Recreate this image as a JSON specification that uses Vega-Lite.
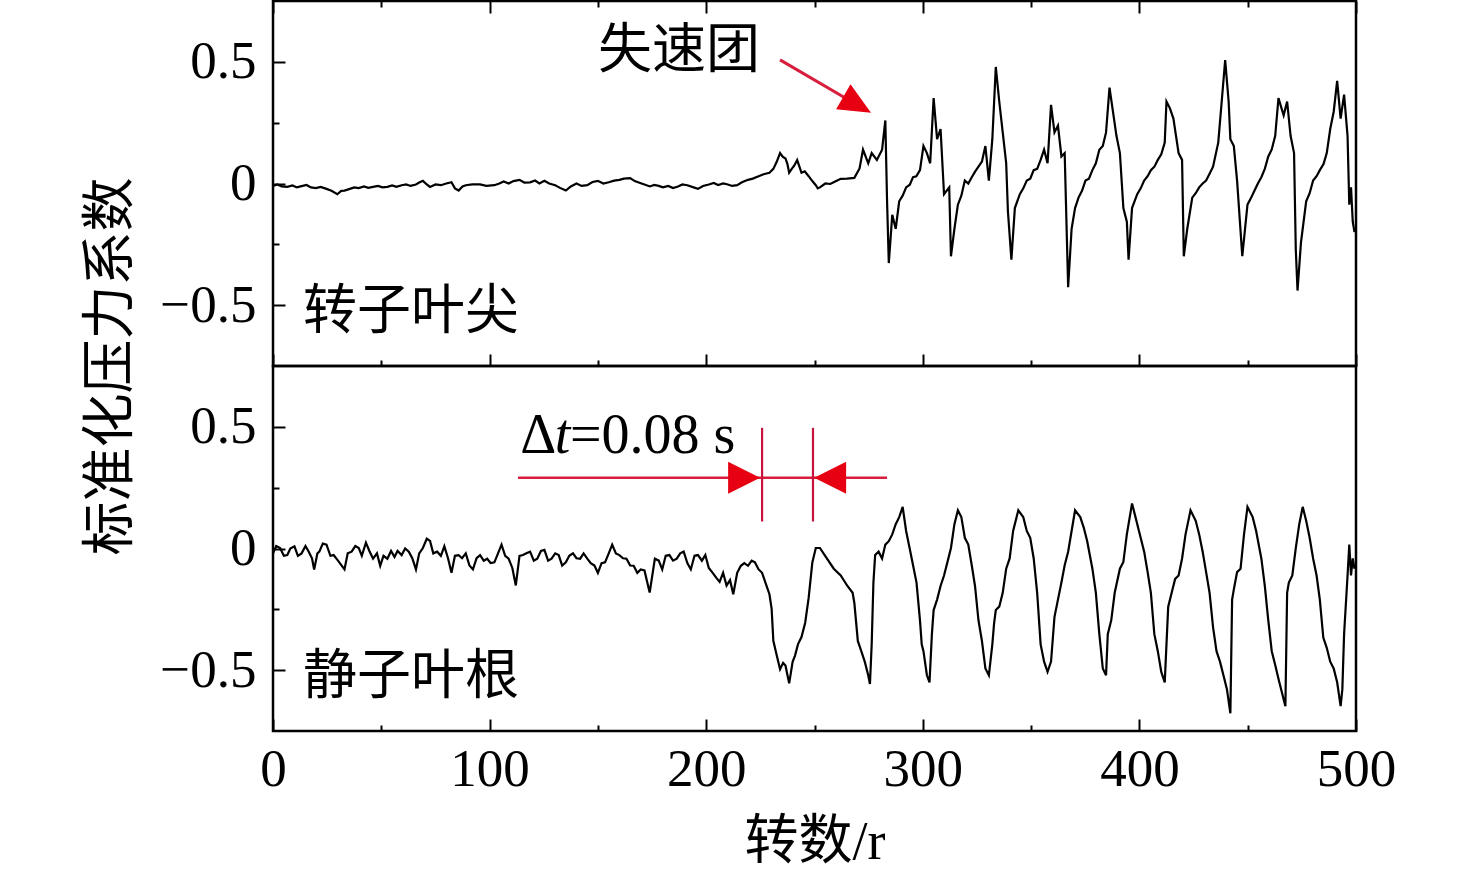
{
"$schema": "https://vega.github.io/schema/vega-lite/v6.json",
"background": "white",
"padding": {"left": 82, "top": -2, "right": 0, "bottom": 0},
"bounds": "flush",
"spacing": 0,
"config": {
  "view": {"stroke": "black", "strokeWidth": 2.5},
  "axis": {"domain": false, "grid": false, "tickColor": "black", "tickWidth": 2, "labelFont": "Liberation Serif", "labelFontSize": 53, "labelColor": "black", "labelOverlap": false, "labelFlush": false, "titleColor": "black"}
},
"datasets": {
"rotorTip": [
{"r":0,"p":-0.010},{"r":2,"p":-0.004},{"r":4,"p":-0.012},{"r":6.6,"p":-0.014},{"r":9,"p":-0.008},{"r":11,"p":-0.016},{"r":13.2,"p":-0.011},{"r":15.5,"p":-0.006},{"r":17.5,"p":-0.016},{"r":19.8,"p":-0.019},{"r":22,"p":-0.014},{"r":24.7,"p":-0.022},{"r":27,"p":-0.03},{"r":29.7,"p":-0.044},{"r":31.5,"p":-0.03},{"r":33,"p":-0.029},{"r":35.5,"p":-0.022},{"r":37.5,"p":-0.016},{"r":39.6,"p":-0.019},{"r":42,"p":-0.012},{"r":44,"p":-0.018},{"r":46.2,"p":-0.014},{"r":48.5,"p":-0.01},{"r":50.5,"p":-0.016},{"r":52.8,"p":-0.014},{"r":55,"p":-0.008},{"r":57,"p":-0.014},{"r":59.4,"p":-0.007},{"r":61.5,"p":-0.004},{"r":63.5,"p":-0.01},{"r":66,"p":-0.004},{"r":67.5,"p":0.004},{"r":69.2,"p":0.011},{"r":71,"p":-0.004},{"r":72.5,"p":-0.014},{"r":75,"p":-0.004},{"r":77.5,"p":-0.007},{"r":80,"p":0.0},{"r":82.4,"p":0.005},{"r":84,"p":-0.02},{"r":85.7,"p":-0.029},{"r":87.5,"p":-0.012},{"r":89,"p":-0.007},{"r":92,"p":-0.004},{"r":95.6,"p":-0.004},{"r":98.5,"p":-0.01},{"r":102.2,"p":-0.007},{"r":104.5,"p":0.0},{"r":106.5,"p":0.008},{"r":108.8,"p":0.0},{"r":111,"p":0.01},{"r":113.8,"p":0.015},{"r":116,"p":0.004},{"r":118.7,"p":0.005},{"r":121,"p":0.012},{"r":123,"p":0.0},{"r":125.3,"p":0.011},{"r":127.5,"p":0.0},{"r":130.3,"p":-0.007},{"r":132.5,"p":-0.018},{"r":135.2,"p":-0.029},{"r":137.5,"p":-0.012},{"r":140.1,"p":0.0},{"r":142.5,"p":-0.01},{"r":145.1,"p":-0.007},{"r":147.5,"p":0.006},{"r":150,"p":0.011},{"r":152.5,"p":0.0},{"r":155,"p":0.005},{"r":157.5,"p":0.012},{"r":159.9,"p":0.015},{"r":162,"p":0.02},{"r":164.9,"p":0.022},{"r":167,"p":0.01},{"r":169.5,"p":0.002},{"r":171.5,"p":-0.004},{"r":174,"p":-0.012},{"r":176,"p":-0.006},{"r":178.1,"p":-0.01},{"r":180,"p":-0.016},{"r":182.5,"p":-0.01},{"r":184.7,"p":-0.019},{"r":187,"p":-0.012},{"r":189,"p":-0.004},{"r":191.3,"p":-0.007},{"r":193.5,"p":-0.014},{"r":196.2,"p":-0.022},{"r":198.5,"p":-0.01},{"r":201.2,"p":-0.004},{"r":203.5,"p":0.002},{"r":205.5,"p":-0.006},{"r":207.8,"p":0.0},{"r":210,"p":-0.004},{"r":212,"p":-0.01},{"r":214.3,"p":-0.007},{"r":216.5,"p":0.005},{"r":219.3,"p":0.015},{"r":221.5,"p":0.02},{"r":224.2,"p":0.03},{"r":226.5,"p":0.038},{"r":229.2,"p":0.044},{"r":231,"p":0.06},{"r":232.5,"p":0.088},{"r":234.1,"p":0.125},{"r":235.3,"p":0.11},{"r":236.6,"p":0.103},{"r":237.5,"p":0.08},{"r":238.3,"p":0.044},{"r":239.5,"p":0.06},{"r":240.7,"p":0.074},{"r":242,"p":0.096},{"r":243,"p":0.07},{"r":244,"p":0.044},{"r":245.5,"p":0.05},{"r":247.3,"p":0.03},{"r":249,"p":0.01},{"r":250.6,"p":-0.007},{"r":251.5,"p":-0.02},
{"r":252.5,"p":-0.016},{"r":255,"p":0.0},{"r":257.3,"p":-0.002},{"r":260,"p":0.01},{"r":262.1,"p":0.019},{"r":265,"p":0.02},{"r":268.4,"p":0.023},{"r":270.8,"p":0.062},{"r":272.4,"p":0.139},{"r":274.8,"p":0.083},{"r":276.4,"p":0.125},{"r":278.8,"p":0.097},{"r":281.2,"p":0.139},{"r":282.7,"p":0.259},{"r":283.5,"p":-0.073},{"r":284.3,"p":-0.327},{"r":285.9,"p":-0.129},{"r":287.5,"p":-0.186},{"r":289.1,"p":-0.073},{"r":290.7,"p":-0.05},{"r":292.3,"p":-0.016},{"r":294,"p":-0.005},{"r":295.5,"p":0.026},{"r":297,"p":0.03},{"r":298.7,"p":0.055},{"r":300.3,"p":0.154},{"r":301.9,"p":0.125},{"r":303.4,"p":0.083},{"r":305,"p":0.351},{"r":306.6,"p":0.182},{"r":308.2,"p":0.224},{"r":309.8,"p":-0.044},{"r":312.2,"p":-0.016},{"r":313,"p":-0.299},{"r":314.6,"p":-0.186},{"r":316.2,"p":-0.087},{"r":317.8,"p":-0.05},{"r":319.4,"p":0.012},{"r":321,"p":0.0},{"r":322.6,"p":0.026},{"r":324.2,"p":0.05},{"r":325.7,"p":0.069},{"r":327.3,"p":0.09},{"r":328.9,"p":0.154},{"r":330.5,"p":0.012},{"r":332.1,"p":0.182},{"r":333.7,"p":0.479},{"r":335.3,"p":0.337},{"r":336.9,"p":0.210},{"r":338.5,"p":0.083},{"r":339.3,"p":-0.115},{"r":340.9,"p":-0.313},{"r":342.5,"p":-0.101},{"r":344.8,"p":-0.044},{"r":346.4,"p":-0.02},{"r":348,"p":0.012},{"r":349.6,"p":0.02},{"r":351.2,"p":0.055},{"r":352.8,"p":0.06},{"r":354.4,"p":0.097},{"r":356,"p":0.139},{"r":357.6,"p":0.083},{"r":359.2,"p":0.323},{"r":360.8,"p":0.210},{"r":362.4,"p":0.238},{"r":364,"p":0.111},{"r":365.5,"p":0.125},{"r":367.1,"p":-0.426},{"r":368.7,"p":-0.186},{"r":370.3,"p":-0.101},{"r":371.9,"p":-0.058},{"r":373.5,"p":-0.03},{"r":375.1,"p":0.012},{"r":376.7,"p":0.02},{"r":378.3,"p":0.055},{"r":379.9,"p":0.083},{"r":381.5,"p":0.139},{"r":383.1,"p":0.154},{"r":384.6,"p":0.210},{"r":386.2,"p":0.394},{"r":387.8,"p":0.295},{"r":389.4,"p":0.196},{"r":391,"p":0.125},{"r":392.6,"p":-0.101},{"r":394.2,"p":-0.157},{"r":395,"p":-0.313},{"r":396.6,"p":-0.101},{"r":399,"p":-0.044},{"r":400.6,"p":-0.02},{"r":402.2,"p":0.012},{"r":403.8,"p":0.03},{"r":405.3,"p":0.055},{"r":407,"p":0.07},{"r":408.5,"p":0.097},{"r":410.1,"p":0.12},{"r":411.7,"p":0.168},{"r":412.5,"p":0.337},{"r":414.1,"p":0.309},{"r":415.7,"p":0.267},{"r":418.1,"p":0.125},{"r":419.7,"p":0.097},{"r":420.5,"p":-0.299},{"r":422.1,"p":-0.186},{"r":424.4,"p":-0.058},{"r":426,"p":-0.04},{"r":427.6,"p":-0.016},{"r":429.2,"p":0.0},{"r":430.8,"p":0.012},{"r":432.4,"p":0.04},{"r":434,"p":0.069},{"r":436.4,"p":0.168},{"r":438,"p":0.337},{"r":439.6,"p":0.507},{"r":441.2,"p":0.337},{"r":442,"p":0.182},{"r":443.6,"p":0.154},{"r":445.1,"p":0.012},{"r":447.5,"p":-0.299},{"r":449.9,"p":-0.087},{"r":451.5,"p":-0.06},{"r":453.1,"p":-0.030},{"r":454.7,"p":0.0},{"r":456.3,"p":0.026},{"r":457.9,"p":0.06},{"r":459.5,"p":0.111},{"r":461.1,"p":0.14},{"r":462.7,"p":0.196},{"r":464.2,"p":0.351},{"r":466.6,"p":0.280},{"r":468.2,"p":0.337},{"r":469.8,"p":0.196},{"r":471.4,"p":0.125},{"r":472.2,"p":-0.271},{"r":473,"p":-0.44},{"r":474.6,"p":-0.242},{"r":477,"p":-0.073},{"r":478.6,"p":-0.04},{"r":480.2,"p":0.012},{"r":481.8,"p":0.03},{"r":483.3,"p":0.055},{"r":485,"p":0.08},{"r":486.5,"p":0.125},{"r":488.1,"p":0.224},{"r":489.7,"p":0.295},{"r":491.3,"p":0.422},{"r":492.9,"p":0.267},{"r":494.5,"p":0.365},{"r":496.1,"p":0.196},{"r":496.9,"p":-0.087},{"r":497.7,"p":-0.016},{"r":498.5,"p":-0.157},{"r":499.3,"p":-0.20}
],
"statorHub": [
{"r":0,"p":-0.02},{"r":1.5,"p":0.01},{"r":3.3,"p":0.002},{"r":5,"p":-0.03},{"r":6.6,"p":-0.027},{"r":8,"p":0.0},{"r":9.9,"p":0.009},{"r":11.5,"p":-0.03},{"r":13.2,"p":-0.02},{"r":15,"p":0.01},{"r":16.5,"p":-0.013},{"r":18,"p":-0.04},{"r":19,"p":-0.086},{"r":20.5,"p":-0.02},{"r":21.4,"p":-0.013},{"r":23,"p":0.02},{"r":24.7,"p":0.016},{"r":26.5,"p":-0.03},{"r":28,"p":-0.027},{"r":30,"p":-0.05},{"r":33,"p":-0.086},{"r":34.5,"p":-0.02},{"r":36.3,"p":-0.013},{"r":38,"p":0.01},{"r":39.6,"p":0.002},{"r":41,"p":-0.03},{"r":42.9,"p":0.024},{"r":44.5,"p":-0.01},{"r":46.2,"p":-0.042},{"r":48,"p":-0.02},{"r":49.5,"p":-0.071},{"r":51,"p":-0.03},{"r":52.8,"p":-0.042},{"r":54.5,"p":-0.01},{"r":56.1,"p":-0.035},{"r":57.5,"p":-0.01},{"r":59.4,"p":-0.027},{"r":61,"p":0.0},{"r":62.7,"p":-0.013},{"r":64.3,"p":-0.04},{"r":66,"p":-0.086},{"r":67.5,"p":-0.02},{"r":69.2,"p":0.002},{"r":71,"p":0.04},{"r":72.5,"p":0.031},{"r":74,"p":-0.02},{"r":75.8,"p":-0.013},{"r":77.5,"p":-0.03},{"r":79.1,"p":0.009},{"r":80.8,"p":-0.04},{"r":82.4,"p":-0.1},{"r":84,"p":-0.03},{"r":85.7,"p":-0.027},{"r":87.3,"p":-0.04},{"r":89,"p":-0.02},{"r":90.7,"p":-0.07},{"r":92.3,"p":-0.086},{"r":94,"p":-0.04},{"r":95.6,"p":-0.027},{"r":97.3,"p":-0.05},{"r":98.9,"p":-0.042},{"r":100.5,"p":-0.06},{"r":102.2,"p":-0.057},{"r":103.9,"p":-0.02},{"r":105.5,"p":0.016},{"r":107.2,"p":-0.03},{"r":108.8,"p":-0.042},{"r":110.5,"p":-0.08},{"r":112.1,"p":-0.152},{"r":113.8,"p":-0.03},{"r":115.4,"p":-0.027},{"r":117,"p":-0.02},{"r":118.7,"p":-0.013},{"r":120.4,"p":-0.05},{"r":122,"p":-0.042},{"r":123.7,"p":-0.01},{"r":125.3,"p":-0.006},{"r":127,"p":-0.05},{"r":128.6,"p":-0.042},{"r":130.3,"p":-0.02},{"r":131.9,"p":-0.027},{"r":133.5,"p":-0.07},{"r":135.2,"p":-0.057},{"r":136.8,"p":-0.03},{"r":138.5,"p":-0.02},{"r":140.1,"p":-0.04},{"r":141.8,"p":-0.042},{"r":143.4,"p":-0.02},{"r":145.1,"p":-0.042},{"r":146.7,"p":-0.06},{"r":148.4,"p":-0.07},{"r":150,"p":-0.1},{"r":151.7,"p":-0.06},{"r":153.3,"p":-0.057},{"r":155,"p":-0.02},{"r":156.6,"p":0.016},{"r":158.3,"p":-0.02},{"r":159.9,"p":-0.027},{"r":161.6,"p":-0.04},{"r":163.2,"p":-0.042},{"r":164.9,"p":-0.07},{"r":166.5,"p":-0.071},{"r":168.2,"p":-0.1},{"r":169.8,"p":-0.086},{"r":171.5,"p":-0.09},{"r":173.9,"p":-0.181},{"r":176.3,"p":-0.042},{"r":178.1,"p":-0.05},{"r":179.7,"p":-0.086},{"r":181.3,"p":-0.03},{"r":183,"p":-0.027},{"r":184.7,"p":-0.05},{"r":186.4,"p":-0.042},{"r":188,"p":-0.02},{"r":189.6,"p":-0.013},{"r":191.3,"p":-0.06},{"r":192.9,"p":-0.086},{"r":194.6,"p":-0.03},{"r":196.2,"p":-0.027},{"r":198,"p":-0.05},{"r":199.6,"p":-0.027},{"r":201.2,"p":-0.08},{"r":203,"p":-0.1},{"r":204.6,"p":-0.12},{"r":206.2,"p":-0.137},{"r":207.8,"p":-0.1},{"r":209.4,"p":-0.152},{"r":211,"p":-0.13},{"r":212.5,"p":-0.188},{"r":214.3,"p":-0.1},{"r":216,"p":-0.071},{"r":217.6,"p":-0.06},{"r":219.3,"p":-0.071},{"r":221,"p":-0.05},{"r":222.5,"p":-0.057},{"r":224.2,"p":-0.086},{"r":225.8,"p":-0.1},{"r":227.5,"p":-0.144},{"r":229.2,"p":-0.188},{"r":230.2,"p":-0.247},{"r":231,"p":-0.379},{"r":232.5,"p":-0.437},{"r":234.1,"p":-0.496},{"r":235.5,"p":-0.47},{"r":236.6,"p":-0.481},{"r":237.5,"p":-0.52},{"r":238.3,"p":-0.554},{"r":239.9,"p":-0.466},{"r":241,"p":-0.44},{"r":242.4,"p":-0.393},{"r":244,"p":-0.364},{"r":245.7,"p":-0.305},{"r":247.3,"p":-0.203},{"r":249,"p":-0.057},{"r":250.6,"p":0.002},
{"r":252.5,"p":0.002},{"r":255.7,"p":-0.041},{"r":258.9,"p":-0.083},{"r":262.1,"p":-0.111},{"r":265.2,"p":-0.154},{"r":267.6,"p":-0.182},{"r":268.4,"p":-0.224},{"r":270,"p":-0.380},{"r":271.6,"p":-0.422},{"r":273.2,"p":-0.465},{"r":274.8,"p":-0.521},{"r":275.6,"p":-0.557},{"r":276.4,"p":-0.394},{"r":277.2,"p":-0.140},{"r":278,"p":-0.027},{"r":279.6,"p":-0.013},{"r":281.2,"p":-0.041},{"r":282.7,"p":0.016},{"r":284.3,"p":0.030},{"r":285.9,"p":0.058},{"r":287.5,"p":0.100},{"r":289.1,"p":0.129},{"r":290.7,"p":0.171},{"r":292.3,"p":0.072},{"r":293.9,"p":0.002},{"r":295.5,"p":-0.069},{"r":297.1,"p":-0.140},{"r":298.7,"p":-0.295},{"r":299.5,"p":-0.394},{"r":300.3,"p":-0.422},{"r":301.9,"p":-0.521},{"r":303.1,"p":-0.550},{"r":304.2,"p":-0.352},{"r":305,"p":-0.253},{"r":306.6,"p":-0.210},{"r":308.2,"p":-0.154},{"r":309.8,"p":-0.111},{"r":311.4,"p":-0.055},{"r":313,"p":0.002},{"r":314.6,"p":0.100},{"r":316.2,"p":0.157},{"r":317.8,"p":0.129},{"r":319.4,"p":0.044},{"r":321,"p":0.016},{"r":322.6,"p":-0.069},{"r":324.1,"p":-0.154},{"r":325.7,"p":-0.295},{"r":327.3,"p":-0.380},{"r":328.9,"p":-0.493},{"r":330.5,"p":-0.521},{"r":332.1,"p":-0.394},{"r":332.9,"p":-0.309},{"r":333.7,"p":-0.253},{"r":335.3,"p":-0.239},{"r":336.9,"p":-0.182},{"r":338.5,"p":-0.083},{"r":340.1,"p":-0.041},{"r":341.7,"p":0.072},{"r":344.1,"p":0.157},{"r":346.4,"p":0.129},{"r":348,"p":0.072},{"r":349.6,"p":0.044},{"r":351.2,"p":-0.041},{"r":352.8,"p":-0.182},{"r":354.4,"p":-0.394},{"r":356,"p":-0.465},{"r":357.6,"p":-0.507},{"r":359.2,"p":-0.465},{"r":360.8,"p":-0.281},{"r":362.4,"p":-0.210},{"r":364,"p":-0.140},{"r":365.5,"p":-0.069},{"r":367.1,"p":-0.013},{"r":368.7,"p":0.072},{"r":370.3,"p":0.157},{"r":372.7,"p":0.129},{"r":374.3,"p":0.086},{"r":375.9,"p":0.030},{"r":378.3,"p":-0.083},{"r":379.9,"p":-0.182},{"r":381.5,"p":-0.352},{"r":383.1,"p":-0.493},{"r":384.6,"p":-0.521},{"r":385.4,"p":-0.352},{"r":387,"p":-0.295},{"r":388.6,"p":-0.182},{"r":391,"p":-0.083},{"r":392.6,"p":-0.055},{"r":394.2,"p":0.058},{"r":396.6,"p":0.185},{"r":398.2,"p":0.129},{"r":399.8,"p":0.072},{"r":402.2,"p":-0.013},{"r":403.8,"p":-0.097},{"r":405.3,"p":-0.182},{"r":406.9,"p":-0.352},{"r":408.5,"p":-0.422},{"r":410.1,"p":-0.507},{"r":411.7,"p":-0.550},{"r":412.5,"p":-0.394},{"r":413.3,"p":-0.239},{"r":414.9,"p":-0.182},{"r":416.5,"p":-0.125},{"r":418.1,"p":-0.111},{"r":419.7,"p":-0.041},{"r":421.3,"p":0.058},{"r":423.6,"p":0.157},{"r":426,"p":0.114},{"r":427.6,"p":0.058},{"r":429.2,"p":-0.013},{"r":430.8,"p":-0.097},{"r":432.4,"p":-0.182},{"r":434,"p":-0.323},{"r":435.6,"p":-0.422},{"r":437.2,"p":-0.465},{"r":438.8,"p":-0.521},{"r":440.4,"p":-0.578},{"r":442,"p":-0.677},{"r":442.8,"p":-0.210},{"r":443.6,"p":-0.168},{"r":445.1,"p":-0.097},{"r":446.7,"p":-0.083},{"r":448.3,"p":0.058},{"r":449.9,"p":0.171},{"r":452.3,"p":0.129},{"r":453.9,"p":0.072},{"r":456.3,"p":-0.041},{"r":457.9,"p":-0.154},{"r":459.5,"p":-0.295},{"r":461.1,"p":-0.422},{"r":462.7,"p":-0.479},{"r":464.2,"p":-0.535},{"r":465.8,"p":-0.592},{"r":467.4,"p":-0.648},{"r":468.2,"p":-0.182},{"r":469,"p":-0.140},{"r":470.6,"p":-0.111},{"r":472.2,"p":0.002},{"r":473.8,"p":0.100},{"r":475.4,"p":0.171},{"r":477,"p":0.114},{"r":478.6,"p":0.044},{"r":480.2,"p":-0.041},{"r":481.8,"p":-0.111},{"r":483.3,"p":-0.210},{"r":484.9,"p":-0.366},{"r":486.5,"p":-0.408},{"r":488.1,"p":-0.465},{"r":489.7,"p":-0.493},{"r":491.3,"p":-0.550},{"r":492.9,"p":-0.648},{"r":493.7,"p":-0.578},{"r":494.5,"p":-0.352},{"r":496.1,"p":-0.111},{"r":496.9,"p":0.016},{"r":497.7,"p":-0.111},{"r":498.5,"p":-0.041},{"r":499.3,"p":-0.083}
]
},
"vconcat": [
{
  "width": 1083, "height": 365,
  "resolve": {"axis": {"x": "independent", "y": "independent"}},
  "layer": [
    {
      "data": {"name": "rotorTip"},
      "mark": {"type": "line", "color": "black", "strokeWidth": 2.2},
      "encoding": {
        "x": {"field": "r", "type": "quantitative", "scale": {"domain": [0, 500], "nice": false}, "axis": {"orient": "bottom", "values": [0, 100, 200, 300, 400, 500], "tickSize": -12, "labels": false, "title": null}},
        "y": {"field": "p", "type": "quantitative", "scale": {"domain": [-0.75, 0.75], "nice": false, "zero": false}, "axis": {"orient": "left", "values": [-0.5, 0, 0.5], "tickSize": -12, "labelPadding": 29, "labelExpr": "datum.value === 0 ? '0' : format(datum.value, '.1f')", "title": "标准化压力系数", "titleFont": "Noto Sans CJK SC", "titleFontSize": 54, "titleFontWeight": "normal", "titleX": -146, "titleY": 365, "titleAngle": -90, "titleAlign": "center", "titleBaseline": "alphabetic"}}
      }
    },
    {
      "data": {"values": [{"r": 150, "p": 0.541, "t": "失速团"}]},
      "mark": {"type": "text", "align": "left", "baseline": "middle", "font": "Noto Sans CJK SC", "fontSize": 54, "color": "black"},
      "encoding": {
        "x": {"field": "r", "type": "quantitative", "scale": {"domain": [0, 500], "nice": false}, "axis": {"orient": "top", "values": [0, 100, 200, 300, 400, 500], "tickSize": -12, "labels": false, "title": null}},
        "y": {"field": "p", "type": "quantitative", "scale": {"domain": [-0.75, 0.75], "nice": false, "zero": false}, "axis": {"orient": "left", "values": [-0.25, 0.25], "tickSize": -6, "labels": false, "title": null}},
        "text": {"field": "t"}
      }
    },
    {
      "data": {"values": [{"r": 13.9, "p": -0.533, "t": "转子叶尖"}]},
      "mark": {"type": "text", "align": "left", "baseline": "middle", "font": "Noto Sans CJK SC", "fontSize": 54, "color": "black"},
      "encoding": {
        "x": {"field": "r", "type": "quantitative", "scale": {"domain": [0, 500], "nice": false}, "axis": {"orient": "bottom", "values": [50, 150, 250, 350, 450], "tickSize": -6, "labels": false, "title": null}},
        "y": {"field": "p", "type": "quantitative", "scale": {"domain": [-0.75, 0.75], "nice": false, "zero": false}, "axis": null},
        "text": {"field": "t"}
      }
    },
    {
      "data": {"values": [{"r": 234.1, "r2": 266.4, "p": 0.508, "p2": 0.340}]},
      "mark": {"type": "rule", "color": "#d81e3c", "strokeWidth": 3},
      "encoding": {
        "x": {"field": "r", "type": "quantitative", "scale": {"domain": [0, 500], "nice": false}, "axis": {"orient": "top", "values": [50, 150, 250, 350, 450], "tickSize": -6, "labels": false, "title": null}},
        "x2": {"field": "r2"},
        "y": {"field": "p", "type": "quantitative", "scale": {"domain": [-0.75, 0.75], "nice": false, "zero": false}, "axis": null},
        "y2": {"field": "p2"}
      }
    },
    {
      "data": {"values": [{"r": 269.7, "p": 0.324}]},
      "mark": {"type": "point", "shape": "M-1,-0.9L1,0L-1,0.9Z", "filled": true, "color": "#e60012", "opacity": 1, "size": 1024, "angle": 30},
      "encoding": {
        "x": {"field": "r", "type": "quantitative", "scale": {"domain": [0, 500], "nice": false}, "axis": null},
        "y": {"field": "p", "type": "quantitative", "scale": {"domain": [-0.75, 0.75], "nice": false, "zero": false}, "axis": null}
      }
    }
  ]
},
{
  "width": 1083, "height": 365,
  "resolve": {"axis": {"x": "independent", "y": "independent"}},
  "layer": [
    {
      "data": {"name": "statorHub"},
      "mark": {"type": "line", "color": "black", "strokeWidth": 2.2},
      "encoding": {
        "x": {"field": "r", "type": "quantitative", "scale": {"domain": [0, 500], "nice": false}, "axis": {"orient": "bottom", "values": [0, 100, 200, 300, 400, 500], "tickSize": -12, "labelPadding": 24, "title": "转数/r", "titleFont": "Liberation Serif, Noto Sans CJK SC", "titleFontSize": 54, "titleFontWeight": "normal", "titleY": 127, "titleBaseline": "alphabetic"}},
        "y": {"field": "p", "type": "quantitative", "scale": {"domain": [-0.75, 0.75], "nice": false, "zero": false}, "axis": {"orient": "left", "values": [-0.5, 0, 0.5], "tickSize": -12, "labelPadding": 29, "labelExpr": "datum.value === 0 ? '0' : format(datum.value, '.1f')", "title": null}}
      }
    },
    {
      "data": {"values": [{"r": 13.9, "p": -0.533, "t": "静子叶根"}]},
      "mark": {"type": "text", "align": "left", "baseline": "middle", "font": "Noto Sans CJK SC", "fontSize": 54, "color": "black"},
      "encoding": {
        "x": {"field": "r", "type": "quantitative", "scale": {"domain": [0, 500], "nice": false}, "axis": {"orient": "bottom", "values": [50, 150, 250, 350, 450], "tickSize": -6, "labels": false, "title": null}},
        "y": {"field": "p", "type": "quantitative", "scale": {"domain": [-0.75, 0.75], "nice": false, "zero": false}, "axis": {"orient": "left", "values": [-0.25, 0.25], "tickSize": -6, "labels": false, "title": null}},
        "text": {"field": "t"}
      }
    },
    {
      "data": {"values": [{"r": 114.2, "p": 0.393, "t": "Δ"}, {"r": 137.1, "p": 0.393, "t": "=0.08 s"}]},
      "mark": {"type": "text", "align": "left", "baseline": "alphabetic", "font": "Liberation Serif", "fontSize": 56, "color": "black"},
      "encoding": {
        "x": {"field": "r", "type": "quantitative", "scale": {"domain": [0, 500], "nice": false}, "axis": null},
        "y": {"field": "p", "type": "quantitative", "scale": {"domain": [-0.75, 0.75], "nice": false, "zero": false}, "axis": null},
        "text": {"field": "t"}
      }
    },
    {
      "data": {"values": [{"r": 130.1, "p": 0.393, "t": "t"}]},
      "mark": {"type": "text", "align": "left", "baseline": "alphabetic", "font": "Liberation Serif", "fontStyle": "italic", "fontSize": 56, "color": "black"},
      "encoding": {
        "x": {"field": "r", "type": "quantitative", "scale": {"domain": [0, 500], "nice": false}, "axis": null},
        "y": {"field": "p", "type": "quantitative", "scale": {"domain": [-0.75, 0.75], "nice": false, "zero": false}, "axis": null},
        "text": {"field": "t"}
      }
    },
    {
      "data": {"values": [{"r": 113.1, "r2": 283.5, "p": 0.291}]},
      "mark": {"type": "rule", "color": "#d81e3c", "strokeWidth": 2.5},
      "encoding": {
        "x": {"field": "r", "type": "quantitative", "scale": {"domain": [0, 500], "nice": false}, "axis": null},
        "x2": {"field": "r2"},
        "y": {"field": "p", "type": "quantitative", "scale": {"domain": [-0.75, 0.75], "nice": false, "zero": false}, "axis": null}
      }
    },
    {
      "data": {"values": [{"r": 225.8, "p": 0.496, "p2": 0.111}, {"r": 249.3, "p": 0.496, "p2": 0.111}]},
      "mark": {"type": "rule", "color": "#c8143c", "strokeWidth": 2.2},
      "encoding": {
        "x": {"field": "r", "type": "quantitative", "scale": {"domain": [0, 500], "nice": false}, "axis": null},
        "y": {"field": "p", "type": "quantitative", "scale": {"domain": [-0.75, 0.75], "nice": false, "zero": false}, "axis": null},
        "y2": {"field": "p2"}
      }
    },
    {
      "data": {"values": [{"r": 217.5, "p": 0.291, "s": "M-1,-1L1,0L-1,1Z"}, {"r": 257.2, "p": 0.291, "s": "M1,-1L-1,0L1,1Z"}]},
      "mark": {"type": "point", "filled": true, "color": "#e60012", "opacity": 1, "size": 1024},
      "encoding": {
        "x": {"field": "r", "type": "quantitative", "scale": {"domain": [0, 500], "nice": false}, "axis": null},
        "y": {"field": "p", "type": "quantitative", "scale": {"domain": [-0.75, 0.75], "nice": false, "zero": false}, "axis": null},
        "shape": {"field": "s", "type": "nominal", "scale": {"range": ["M-1,-1L1,0L-1,1Z", "M1,-1L-1,0L1,1Z"], "domain": ["M-1,-1L1,0L-1,1Z", "M1,-1L-1,0L1,1Z"]}, "legend": null}
      }
    }
  ]
}
]
}
